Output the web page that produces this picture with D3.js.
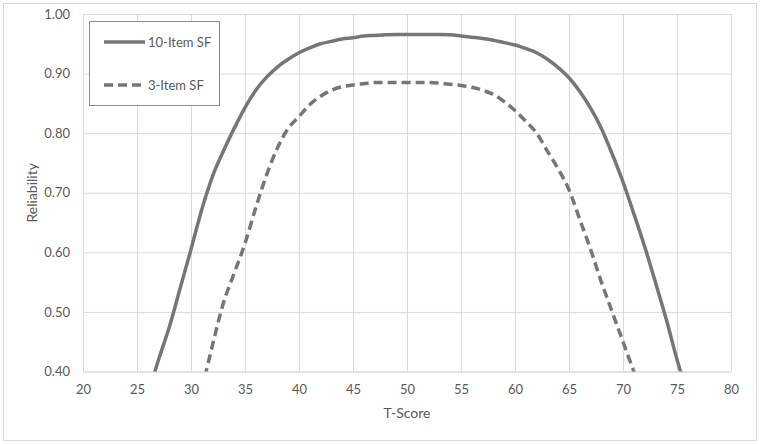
<html>
<head>
    <style>
        body { margin: 0; background: #ffffff; font-family: Lato, "Open Sans", sans-serif; }
        svg { display: block; }
    </style>
    <script src="https://cdn.jsdelivr.net/npm/d3@7"></script>
</head>
<body>
<svg id="grafico"></svg>
<script>
    // T-Score values (x) shared by both curves
    let tScores10 = [25, 26, 27, 28, 29, 30, 31, 32, 33, 34, 35, 36, 37, 38, 39, 40, 41, 42, 43, 44, 45, 46, 47, 48, 49, 50,
                     51, 52, 53, 54, 55, 56, 57, 58, 59, 60, 61, 62, 63, 64, 65, 66, 67, 68, 69, 70, 71, 72, 73, 74, 75, 76, 77];
    let fiabilidad10 = [0.30, 0.36, 0.42, 0.475, 0.54, 0.605, 0.672, 0.728, 0.77, 0.808, 0.843, 0.872, 0.894, 0.911, 0.924, 0.935, 0.943, 0.950, 0.954, 0.958, 0.960, 0.963, 0.964, 0.965, 0.9655, 0.9655,
                        0.9655, 0.9655, 0.9655, 0.965, 0.963, 0.961, 0.959, 0.956, 0.952, 0.948, 0.942, 0.935, 0.924, 0.910, 0.893, 0.870, 0.842, 0.808, 0.765, 0.718, 0.665, 0.610, 0.550, 0.488, 0.420, 0.36, 0.30];

    let tScores3 = [30, 31, 32, 33, 34, 35, 36, 37, 38, 39, 40, 41, 42, 43, 44, 45, 46, 47, 48, 49, 50,
                    51, 52, 53, 54, 55, 56, 57, 58, 59, 60, 61, 62, 63, 64, 65, 66, 67, 68, 69, 70, 71, 72];
    let fiabilidad3 = [0.30, 0.37, 0.445, 0.515, 0.565, 0.615, 0.675, 0.73, 0.775, 0.808, 0.828, 0.848, 0.862, 0.872, 0.878, 0.881, 0.883, 0.885, 0.885, 0.885, 0.885,
                       0.885, 0.885, 0.884, 0.882, 0.880, 0.877, 0.872, 0.865, 0.853, 0.838, 0.820, 0.800, 0.770, 0.740, 0.705, 0.655, 0.605, 0.550, 0.500, 0.450, 0.400, 0.35];

    let ticksX = [20, 25, 30, 35, 40, 45, 50, 55, 60, 65, 70, 75, 80];
    let ticksY = [0.40, 0.50, 0.60, 0.70, 0.80, 0.90, 1.00];

    let series = [
        { nombre: "10-Item SF", x: tScores10, y: fiabilidad10, dash: null },
        { nombre: "3-Item SF",  x: tScores3,  y: fiabilidad3,  dash: "9,5" }
    ];

    let ancho = 760, alto = 444;
    let margenes = { top: 14, bottom: 72.5, left: 83, right: 29 };
    let colorTexto = "#595959";
    let colorLinea = "#767676";
    let colorRejilla = "#d9d9d9";

    let svg = d3.select("#grafico").attr("width", ancho).attr("height", alto);

    // borde exterior del grafico
    svg.append("rect")
        .attr("x", 3.5).attr("y", 3.5)
        .attr("width", ancho - 7).attr("height", alto - 7)
        .attr("fill", "#ffffff")
        .attr("stroke", colorRejilla);

    let escalaX = d3.scaleLinear().domain([20, 80]).range([margenes.left, ancho - margenes.right]);
    let escalaY = d3.scaleLinear().domain([0.40, 1.00]).range([alto - margenes.bottom, margenes.top]);

    // rejilla vertical
    svg.append("g")
        .attr("transform", `translate(0,${margenes.top})`)
        .call(d3.axisBottom(escalaX).tickValues(ticksX).tickSize(alto - margenes.bottom - margenes.top).tickFormat(""))
        .call(g => g.select(".domain").remove())
        .call(g => g.selectAll("line").attr("stroke", colorRejilla));

    // rejilla horizontal
    svg.append("g")
        .attr("transform", `translate(${margenes.left},0)`)
        .call(d3.axisRight(escalaY).tickValues(ticksY).tickSize(ancho - margenes.left - margenes.right).tickFormat(""))
        .call(g => g.select(".domain").remove())
        .call(g => g.selectAll("line").attr("stroke", colorRejilla));

    // etiquetas eje X
    svg.append("g")
        .attr("transform", `translate(0,${alto - margenes.bottom})`)
        .call(d3.axisBottom(escalaX).tickValues(ticksX).tickSize(0).tickPadding(13).tickFormat(d3.format("d")))
        .call(g => g.select(".domain").attr("stroke", colorRejilla))
        .call(g => g.selectAll("text").attr("fill", colorTexto).attr("font-size", "13px").attr("font-family", "Lato, sans-serif"));

    // etiquetas eje Y
    svg.append("g")
        .attr("transform", `translate(${margenes.left},0)`)
        .call(d3.axisLeft(escalaY).tickValues(ticksY).tickSize(0).tickPadding(13).tickFormat(d3.format(".2f")))
        .call(g => g.select(".domain").remove())
        .call(g => g.selectAll("text").attr("fill", colorTexto).attr("font-size", "13px").attr("font-family", "Lato, sans-serif"));

    // titulos de ejes
    svg.append("text")
        .attr("x", (margenes.left + ancho - margenes.right) / 2)
        .attr("y", 418)
        .attr("text-anchor", "middle")
        .attr("fill", colorTexto)
        .attr("font-size", "14px")
        .text("T-Score");

    svg.append("text")
        .attr("transform", `translate(37,${(margenes.top + alto - margenes.bottom) / 2}) rotate(-90)`)
        .attr("text-anchor", "middle")
        .attr("fill", colorTexto)
        .attr("font-size", "14px")
        .text("Reliability");

    // recorte al area de trazado
    svg.append("clipPath").attr("id", "recorte")
        .append("rect")
        .attr("x", margenes.left).attr("y", margenes.top - 3)
        .attr("width", ancho - margenes.left - margenes.right)
        .attr("height", alto - margenes.top - margenes.bottom + 3);

    let linea = d3.line()
        .x(d => escalaX(d[0]))
        .y(d => escalaY(d[1]))
        .curve(d3.curveMonotoneX);

    svg.append("g").attr("clip-path", "url(#recorte)")
        .selectAll("path")
        .data(series)
        .enter().append("path")
            .attr("d", s => linea(s.x.map((t, i) => [t, s.y[i]])))
            .attr("fill", "none")
            .attr("stroke", colorLinea)
            .attr("stroke-width", 3.5)
            .attr("stroke-dasharray", s => s.dash);

    // leyenda
    let leyenda = svg.append("g");
    leyenda.append("rect")
        .attr("x", 89.5).attr("y", 21.5)
        .attr("width", 130).attr("height", 84)
        .attr("fill", "#ffffff")
        .attr("stroke", "#8c8c8c");

    let filas = leyenda.selectAll(".fila")
        .data(series)
        .enter().append("g")
            .attr("transform", (d, i) => `translate(0,${42 + i * 43})`);

    filas.append("line")
        .attr("x1", 104).attr("x2", 145)
        .attr("stroke", colorLinea)
        .attr("stroke-width", 3.5)
        .attr("stroke-dasharray", d => d.dash);

    filas.append("text")
        .attr("x", 148).attr("y", 5)
        .attr("fill", colorTexto)
        .attr("font-size", "13px")
        .text(d => d.nombre);
</script>
</body>
</html>
